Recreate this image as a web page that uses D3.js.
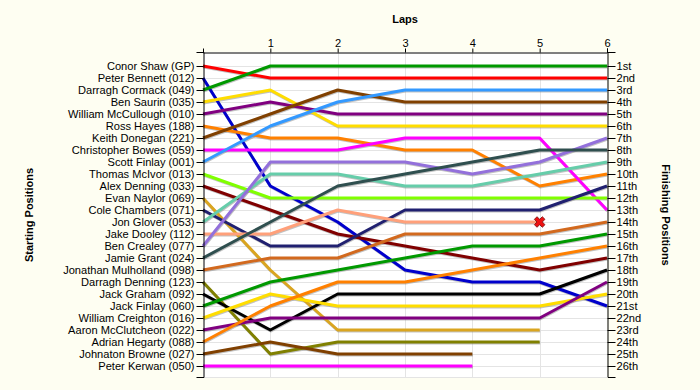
<!DOCTYPE html>
<html>
<head>
<meta charset="utf-8">
<script src="https://cdn.jsdelivr.net/npm/d3@7"></script>
<style>
  html, body { margin: 0; padding: 0; background: #fefef2; }
  svg { display: block; }
  text { font-family: "Liberation Sans", Arial, sans-serif; }
</style>
</head>
<body>
<svg id="chart" width="700" height="390"></svg>
<script>
// ---------- DATA ----------
const drivers = [
  "Conor Shaw (GP)", "Peter Bennett (012)", "Darragh Cormack (049)", "Ben Saurin (035)",
  "William McCullough (010)", "Ross Hayes (188)", "Keith Donegan (221)", "Christopher Bowes (059)",
  "Scott Finlay (001)", "Thomas McIvor (013)", "Alex Denning (033)", "Evan Naylor (069)",
  "Cole Chambers (071)", "Jon Glover (053)", "Jake Dooley (112)", "Ben Crealey (077)",
  "Jamie Grant (024)", "Jonathan Mulholland (098)", "Darragh Denning (123)", "Jack Graham (092)",
  "Jack Finlay (060)", "William Creighton (016)", "Aaron McClutcheon (022)", "Adrian Hegarty (088)",
  "Johnaton Browne (027)", "Peter Kerwan (050)"
];
// position at lap 0,1,2,... (array ends when driver stops)
const positions = [
  [1, 2, 2, 2, 2, 2, 2],
  [2, 11, 14, 18, 19, 19, 21],
  [3, 1, 1, 1, 1, 1, 1],
  [4, 3, 6, 6, 6, 6, 6],
  [5, 4, 5, 5, 5, 5, 5],
  [6, 7, 7, 8, 8, 11, 10],
  [7, 5, 3, 4, 4, 4, 4],
  [8, 8, 8, 7, 7, 7, 13],
  [9, 6, 4, 3, 3, 3, 3],
  [10, 12, 12, 12, 12, 12, 12],
  [11, 13, 15, 16, 17, 18, 17],
  [12, 18, 23, 23, 23, 23],
  [13, 16, 16, 13, 13, 13, 11],
  [14, 10, 10, 11, 11, 10, 9],
  [15, 15, 13, 14, 14, 14],
  [16, 9, 9, 9, 10, 9, 7],
  [17, 14, 11, 10, 9, 8, 8],
  [18, 17, 17, 15, 15, 15, 14],
  [19, 25, 24, 24, 24, 24],
  [20, 23, 20, 20, 20, 20, 18],
  [21, 19, 18, 17, 16, 16, 15],
  [22, 20, 21, 21, 21, 21, 20],
  [23, 22, 22, 22, 22, 22, 19],
  [24, 21, 19, 19, 18, 17, 16],
  [25, 24, 25, 25, 25],
  [26, 26, 26, 26, 26]
];
const driverColors = [
  "#ff0000", "#0000cc", "#009900", "#ffdd00", "#800080", "#ff8000", "#804000", "#ff00ff",
  "#3399ff", "#80ff00", "#800000", "#daa520", "#202070", "#66cdaa", "#ffa07a", "#9370db",
  "#2f4f4f", "#d2691e", "#808000", "#000000",
  "#009900", "#ffdd00", "#800080", "#ff8000", "#804000", "#ff00ff"
];
const lapTicks = [1, 2, 3, 4, 5, 6];
const finishLabels = [
  "1st", "2nd", "3rd", "4th", "5th", "6th", "7th", "8th", "9th", "10th", "11th", "12th", "13th",
  "14th", "15th", "16th", "17th", "18th", "19th", "20th", "21st", "22nd", "23rd", "24th", "25th", "26th"
];
const retirements = [ { driver: 14, lap: 5 } ]; // index into drivers, lap of crash marker

// ---------- LAYOUT ----------
const svg = d3.select("#chart");
const pLeft = 203, pRight = 607, pTop = 52, pBottom = 377;

const x = d3.scaleLinear().domain([0, 6]).range([pLeft, pRight]);
const y = d3.scaleLinear().domain([1, 26]).range([66, 366]);
const yAxisScale = d3.scaleLinear().domain([y.invert(pTop), y.invert(pBottom)]).range([pTop, pBottom]);

// plot background
svg.append("rect").attr("x", pLeft).attr("y", pTop)
  .attr("width", pRight - pLeft).attr("height", pBottom - pTop).attr("fill", "#ffffff");

// grid
const grid = svg.append("g").attr("stroke", "#e4e4e4").attr("stroke-width", 1);
grid.selectAll("line.h").data(d3.range(1, 27)).join("line")
  .attr("x1", pLeft).attr("x2", pRight)
  .attr("y1", d => Math.round(y(d)) + 0.5).attr("y2", d => Math.round(y(d)) + 0.5);
grid.append("line").attr("x1", pLeft).attr("x2", pRight)
  .attr("y1", pBottom + 0.5).attr("y2", pBottom + 0.5);
grid.selectAll("line.v").data(lapTicks.slice(0, 5)).join("line")
  .attr("y1", pTop).attr("y2", pBottom)
  .attr("x1", d => Math.round(x(d)) + 0.5).attr("x2", d => Math.round(x(d)) + 0.5);

// lines
const line = d3.line().x((d, i) => x(i)).y(d => y(d));
const shadows = svg.append("g").attr("transform", "translate(0.5,1)");
shadows.selectAll("path").data(positions).join("path")
  .attr("d", line).attr("fill", "none").attr("stroke", "#777").attr("stroke-opacity", 0.45)
  .attr("stroke-width", 3).attr("stroke-linejoin", "round");
svg.append("g").selectAll("path").data(positions).join("path")
  .attr("d", line).attr("fill", "none")
  .attr("stroke", (d, i) => driverColors[i])
  .attr("stroke-width", 3).attr("stroke-linejoin", "round");

// crash markers
svg.append("g").selectAll("path").data(retirements).join("path")
  .attr("d", d3.symbol(d3.symbolCross, 70))
  .attr("transform", d => `translate(${x(d.lap)},${y(positions[d.driver][d.lap])}) rotate(45)`)
  .attr("fill", "#ee1111").attr("stroke", "#7a1010").attr("stroke-width", 0.8);

// axes
const fontSize = "11.1px";
const leftAxis = d3.axisLeft(yAxisScale).tickValues(d3.range(1, 27))
  .tickFormat(d => drivers[d - 1]).tickSize(7).tickSizeOuter(7).tickPadding(2);
const gL = svg.append("g").attr("transform", `translate(${pLeft + 0.5},0)`).call(leftAxis);
const rightAxis = d3.axisRight(yAxisScale).tickValues(d3.range(1, 27))
  .tickFormat(d => finishLabels[d - 1]).tickSize(8).tickSizeOuter(8).tickPadding(1);
const gR = svg.append("g").attr("transform", `translate(${pRight + 0.5},0)`).call(rightAxis);
const topAxis = d3.axisTop(x).tickValues(lapTicks).tickFormat(d3.format("d"))
  .tickSize(4).tickSizeOuter(4).tickPadding(2);
const gT = svg.append("g").attr("transform", `translate(0,${pTop + 0.5})`).call(topAxis);

[gL, gR, gT].forEach(g => {
  g.selectAll("text").attr("font-family", "'Liberation Sans', Arial, sans-serif")
    .attr("font-size", fontSize).attr("fill", "#000");
  g.selectAll("path, line").attr("stroke", "#000");
});

// titles
svg.append("text").attr("x", 405).attr("y", 23).attr("text-anchor", "middle")
  .attr("font-size", "11px").attr("font-weight", "bold").text("Laps");
svg.append("text").attr("transform", "translate(33,215) rotate(-90)").attr("text-anchor", "middle")
  .attr("font-size", "11px").attr("font-weight", "bold").text("Starting Positions");
svg.append("text").attr("transform", "translate(662,215) rotate(90)").attr("text-anchor", "middle")
  .attr("font-size", "11px").attr("font-weight", "bold").text("Finishing Positions");
</script>
</body>
</html>
